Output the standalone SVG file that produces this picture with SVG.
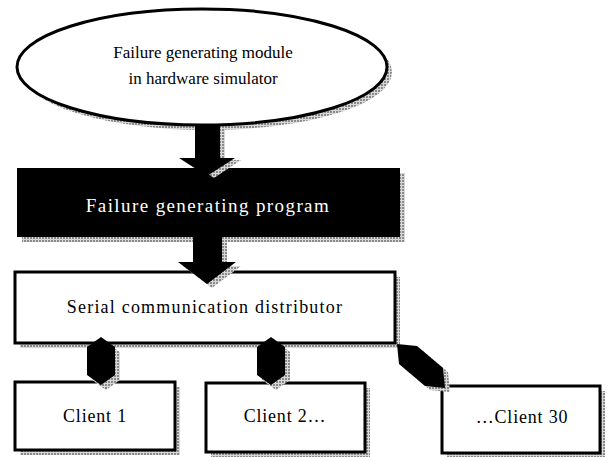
<svg xmlns="http://www.w3.org/2000/svg" width="611" height="457" viewBox="0 0 611 457">
<defs>
<pattern id="dots" width="3" height="3" patternUnits="userSpaceOnUse">
<rect width="3" height="3" fill="#d8d8d8"/>
<rect width="2" height="2" fill="#8a8a8a"/>
</pattern>
<style>
.t{font-family:"Liberation Serif","Times New Roman",serif;fill:#000;text-anchor:middle}
.box{fill:#fff;stroke:#000;stroke-width:3}
.sh{fill:url(#dots)}
.arr{fill:#000}
</style>
</defs>
<rect width="611" height="457" fill="#fff"/>
<g id="ellipse-node">
<ellipse class="sh" cx="207" cy="72" rx="185" ry="58"/>
<ellipse cx="202" cy="67" rx="185" ry="58" fill="#fff" stroke="#000" stroke-width="3"/>
<text class="t" x="203" y="58" font-size="17">Failure generating module</text>
<text class="t" x="203" y="84" font-size="17">in hardware simulator</text>
</g>
<g id="program-node">
<rect class="sh" x="22" y="173" width="383" height="69"/>
<rect x="17" y="168" width="383" height="69" fill="#000"/>
<text class="t" x="208" y="212" font-size="19" letter-spacing="1.4" style="fill:#fff">Failure generating program</text>
</g>
<g id="distributor-node">
<rect class="sh" x="20" y="277" width="380" height="71"/>
<rect class="box" x="15" y="272" width="380" height="71"/>
<text class="t" x="205" y="313" font-size="18" letter-spacing="1.2">Serial communication distributor</text>
</g>
<g id="client1-node">
<rect class="sh" x="20" y="387" width="160" height="68"/>
<rect class="box" x="15" y="382" width="160" height="68"/>
<text class="t" x="95" y="422" font-size="18" letter-spacing="0.8">Client 1</text>
</g>
<g id="client2-node">
<rect class="sh" x="211" y="388" width="159" height="69"/>
<rect class="box" x="206" y="383" width="159" height="69"/>
<text class="t" x="285" y="422" font-size="18" letter-spacing="0.8">Client 2…</text>
</g>
<g id="client30-node">
<rect class="sh" x="447" y="391" width="158" height="67"/>
<rect class="box" x="442" y="386" width="158" height="67"/>
<text class="t" x="522" y="423" font-size="18" letter-spacing="0.8">…Client 30</text>
</g>
<g id="connectors">
<path class="sh" d="M200,128 h25 v32 h16 l-27,18 l-27,-18 h13 z"/>
<path class="arr" d="M195,124 h25 v34 h15 l-28,18 l-28,-18 h16 z"/>
<path class="sh" d="M198,240 h29 v26 h14 l-29,22 l-29,-22 h15 z"/>
<path class="arr" d="M193,236 h29 v26 h14 l-29,22 l-29,-22 h15 z"/>
<path class="sh" d="M106,342 l14,10 v28 l-14,10 l-14,-10 v-28 z"/>
<path class="arr" d="M101,337 l14,10 v28 l-14,10 l-14,-10 v-28 z"/>
<path class="sh" d="M276,342 l14,10 v28 l-14,10 l-14,-10 v-28 z"/>
<path class="arr" d="M271,337 l14,10 v28 l-14,10 l-14,-10 v-28 z"/>
<path class="sh" d="M402,348 l20,2 l26,22 l2,20 l-20,-2 l-26,-22 z"/>
<path class="arr" d="M397,344 l20,2 l26,22 l2,20 l-20,-2 l-26,-22 z"/>
</g>
</svg>
